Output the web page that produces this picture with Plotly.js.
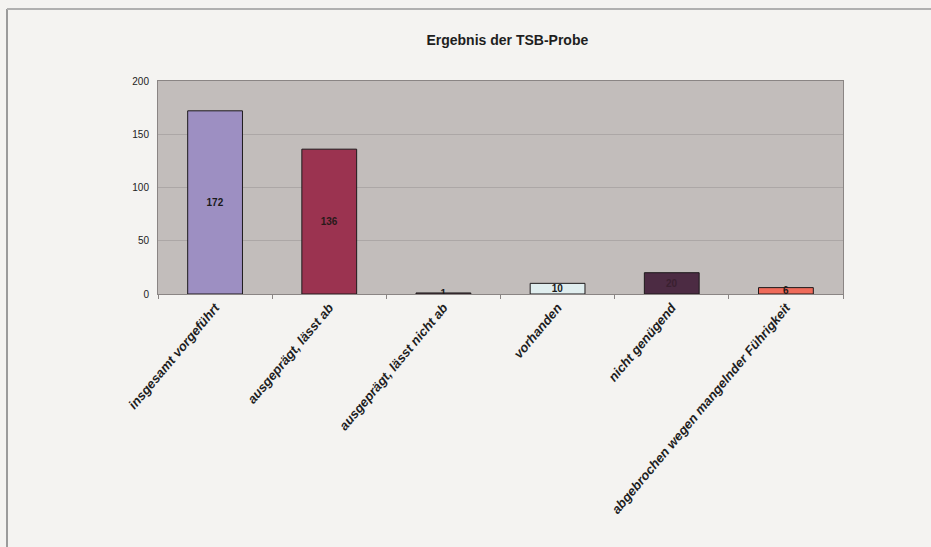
<!DOCTYPE html>
<html>
<head>
<meta charset="utf-8">
<script src="https://cdn.plot.ly/plotly-3.0.1.min.js"></script>
<style>
html,body{margin:0;padding:0;background:#f4f3f1;}
#chart{width:931px;height:547px;}
</style>
</head>
<body>
<div id="chart"></div>
<script>
const categories = [
  "insgesamt vorgeführt",
  "ausgeprägt, lässt ab",
  "ausgeprägt, lässt nicht ab",
  "vorhanden",
  "nicht genügend",
  "abgebrochen wegen mangelnder Führigkeit"
];
const values = [172, 136, 1, 10, 20, 6];
const barColors = ["#9d8fc2", "#9b3350", "#6a4a58", "#e0eeef", "#4c2b43", "#ef6b5a"];
const labelColors = ["#1a1a1a", "#2a1a1a", "#1a1a1a", "#1a1a1a", "#3a2030", "#1a1a1a"];
const yTicks = [0, 50, 100, 150, 200];
const titleText = "Ergebnis der TSB-Probe";

// layout geometry (pixels)
const W = 931, H = 547;
const L = 158, R = 843, T = 81, B = 294;
const px = x => (x - L) / (R - L);
const py = y => (B - y) / (B - T);

const trace = {
  type: "bar",
  x: categories,
  y: values,
  text: values.map(String),
  textposition: "inside",
  insidetextanchor: "middle",
  constraintext: "none",
  textangle: 0,
  textfont: {family: "Liberation Sans, Arial, sans-serif", size: 10, color: labelColors, weight: "bold"},
  marker: {color: barColors, line: {color: "#1e1a1c", width: 1}},
  hoverinfo: "x+y"
};

const layout = {
  width: W, height: H,
  margin: {l: L, r: W - R, t: T, b: H - B, pad: 0},
  paper_bgcolor: "#f4f3f1",
  plot_bgcolor: "#c2bdbb",
  bargap: 0.52,
  showlegend: false,
  title: {
    text: titleText,
    font: {family: "Liberation Sans Narrow, Liberation Sans, Arial, sans-serif", size: 14, color: "#1e1e1e", weight: "bold"},
    x: 0.51, xref: "paper", xanchor: "center",
    y: 1 - 40 / H, yref: "container", yanchor: "middle"
  },
  xaxis: {
    type: "category",
    tickangle: -50,
    tickfont: {family: "Liberation Sans, Arial, sans-serif", size: 13, color: "#1e1e1e", weight: "bold", style: "italic"},
    ticks: "outside", ticklen: 4, tickcolor: "#8a8584", tickson: "boundaries",
    showline: true, linecolor: "#8a8584", linewidth: 1, mirror: true,
    showgrid: false, fixedrange: true
  },
  yaxis: {
    range: [0, 200],
    tickvals: yTicks,
    ticktext: yTicks.map(String),
    tickfont: {family: "Liberation Sans, Arial, sans-serif", size: 10, color: "#222"},
    ticks: "", ticklabelstandoff: 6,
    showline: true, linecolor: "#8a8584", linewidth: 1, mirror: true,
    showgrid: true, gridcolor: "#aca7a6", gridwidth: 1,
    zeroline: false, fixedrange: true
  },
  shapes: [
    {type: "line", xref: "paper", yref: "paper", x0: px(7), x1: px(7), y0: py(9), y1: py(560), line: {color: "#9b9b9b", width: 2}},
    {type: "line", xref: "paper", yref: "paper", x0: px(7), x1: px(940), y0: py(9), y1: py(9), line: {color: "#b0b0b0", width: 2}}
  ]
};

Plotly.newPlot("chart", [trace], layout, {displayModeBar: false, staticPlot: true});
</script>
</body>
</html>
